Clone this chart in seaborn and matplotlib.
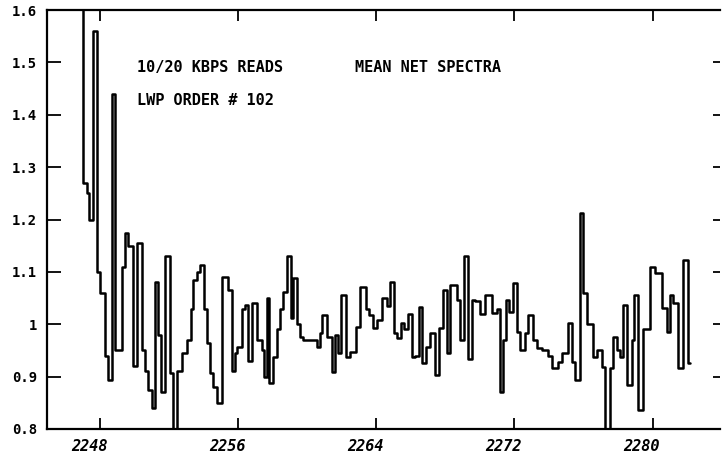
import matplotlib
matplotlib.use("Agg")
import matplotlib.pyplot as plt
import matplotlib.transforms as mtransforms
import seaborn as sns
import pandas as pd

# Wavelength (Angstrom, start of each step) and mean net flux (normalized)
wavelength = [
    2245.69, 2247.02, 2247.25, 2247.36, 2247.59, 2247.83, 2248.00, 2248.29, 2248.46, 2248.69,
    2248.87, 2249.27, 2249.45, 2249.62, 2249.91, 2250.14, 2250.43, 2250.60, 2250.78, 2251.01,
    2251.18, 2251.36, 2251.53, 2251.76, 2252.05, 2252.22, 2252.46, 2252.75, 2253.03, 2253.27,
    2253.38, 2253.61, 2253.79, 2254.02, 2254.19, 2254.37, 2254.54, 2254.77, 2255.06, 2255.41,
    2255.64, 2255.81, 2255.93, 2256.22, 2256.39, 2256.56, 2256.80, 2257.09, 2257.38, 2257.49,
    2257.66, 2257.78, 2258.01, 2258.24, 2258.42, 2258.59, 2258.82, 2259.05, 2259.17, 2259.40,
    2259.57, 2259.75, 2260.56, 2260.73, 2260.85, 2261.14, 2261.43, 2261.60, 2261.77, 2261.95,
    2262.24, 2262.47, 2262.81, 2263.05, 2263.39, 2263.57, 2263.80, 2264.03, 2264.32, 2264.61,
    2264.78, 2265.01, 2265.19, 2265.42, 2265.59, 2265.82, 2266.06, 2266.23, 2266.46, 2266.63,
    2266.87, 2267.10, 2267.39, 2267.62, 2267.85, 2268.08, 2268.26, 2268.66, 2268.83, 2269.06,
    2269.30, 2269.53, 2269.70, 2269.99, 2270.28, 2270.69, 2270.98, 2271.15, 2271.32, 2271.50,
    2271.67, 2271.90, 2272.13, 2272.31, 2272.60, 2272.77, 2273.06, 2273.29, 2273.58, 2273.93,
    2274.16, 2274.50, 2274.74, 2275.08, 2275.31, 2275.49, 2275.78, 2275.95, 2276.18, 2276.53,
    2276.76, 2277.05, 2277.22, 2277.51, 2277.69, 2277.92, 2278.09, 2278.27, 2278.50, 2278.79,
    2278.90, 2279.13, 2279.42, 2279.83, 2280.12, 2280.52, 2280.81, 2280.99, 2281.16, 2281.45,
    2281.74, 2282.03, 2282.14,
]
flux = [
    1.70, 1.27, 1.25, 1.20, 1.56, 1.10, 1.06, 0.94, 0.894, 1.44,
    0.95, 1.11, 1.175, 1.15, 0.92, 1.155, 0.95, 0.91, 0.875, 0.84,
    1.08, 0.98, 0.87, 1.13, 0.907, 0.78, 0.91, 0.945, 0.97, 1.03,
    1.085, 1.10, 1.113, 1.03, 0.965, 0.907, 0.88, 0.85, 1.09, 1.066,
    0.91, 0.945, 0.957, 1.03, 1.037, 0.93, 1.04, 0.97, 0.95, 0.90,
    1.05, 0.888, 0.938, 0.99, 1.03, 1.062, 1.13, 1.012, 1.088, 1.0,
    0.976, 0.97, 0.957, 0.983, 1.018, 0.976, 0.909, 0.98, 0.946, 1.056,
    0.938, 0.947, 0.995, 1.071, 1.03, 1.018, 0.993, 1.008, 1.05, 1.035,
    1.081, 0.983, 0.974, 1.003, 0.99, 1.02, 0.938, 0.94, 1.033, 0.926,
    0.957, 0.983, 0.903, 0.993, 1.066, 0.945, 1.075, 1.047, 0.97, 1.13,
    0.933, 1.047, 1.045, 1.02, 1.056, 1.022, 1.03, 0.871, 0.97, 1.047,
    1.023, 1.079, 0.985, 0.951, 0.983, 1.018, 0.97, 0.955, 0.951, 0.94,
    0.917, 0.928, 0.945, 1.003, 0.928, 0.894, 1.213, 1.06, 1.0, 0.938,
    0.951, 0.919, 0.78, 0.917, 0.976, 0.951, 0.938, 1.037, 0.884, 0.97,
    1.056, 0.837, 0.99, 1.11, 1.098, 1.031, 0.985, 1.056, 1.04, 0.917,
    1.123, 0.926, 0.926,
]

x_ticks = [2248, 2256, 2264, 2272, 2280]
x_tick_labels = ["2248", "2256", "2264", "2272", "2280"]
y_ticks = [0.8, 0.9, 1.0, 1.1, 1.2, 1.3, 1.4, 1.5, 1.6]
y_tick_labels = ["0.8", "0.9", "1", "1.1", "1.2", "1.3", "1.4", "1.5", "1.6"]

header_left = "10/20 KBPS READS"
header_right = "MEAN NET SPECTRA"
order_label = "LWP ORDER # 102"

sns.set_style("white")
plt.rcParams["font.family"] = ["DejaVu Sans Mono", "DejaVu Sans"]

fig = plt.figure(figsize=(7.22, 4.55), dpi=100)
ax = fig.add_axes([47 / 722, 1 - 429 / 455, 673 / 722, 419 / 455])

df = pd.DataFrame({"wavelength": wavelength, "flux": flux})
sns.lineplot(data=df, x="wavelength", y="flux", ax=ax, color="black",
             linewidth=1.8, drawstyle="steps-post", estimator=None, sort=False)

ax.set_xlim(2244.93, 2283.9)
ax.set_ylim(0.8, 1.6)
ax.set_xlabel("")
ax.set_ylabel("")

ax.set_xticks(x_ticks)
ax.set_xticklabels(x_tick_labels, fontsize=11, fontweight="bold", style="italic")
ax.set_yticks(y_ticks)
ax.set_yticklabels(y_tick_labels, fontsize=10, fontweight="bold")

ax.tick_params(axis="x", direction="in", length=8, width=1.3, top=True, bottom=True,
               pad=7, colors="black")
ax.tick_params(axis="y", direction="in", length=10, width=1.3, left=True, right=True,
               pad=7, colors="black")
for t in ax.yaxis.get_major_ticks():
    t.tick2line.set_markersize(5)

offset = mtransforms.ScaledTranslation(-11 / 100, 0, fig.dpi_scale_trans)
for lbl in ax.get_xticklabels():
    lbl.set_transform(lbl.get_transform() + offset)

for side in ["left", "bottom", "top"]:
    ax.spines[side].set_visible(True)
    ax.spines[side].set_color("black")
    ax.spines[side].set_linewidth(1.6)
ax.spines["right"].set_visible(False)

txt_kw = dict(transform=ax.transAxes, fontsize=11, fontweight="bold",
              va="center", ha="left", color="black")
ax.text(0.134, 0.862, header_left, **txt_kw)
ax.text(0.457, 0.862, header_right, **txt_kw)
ax.text(0.134, 0.785, order_label, **txt_kw)

fig.savefig("out.png", dpi=100)
